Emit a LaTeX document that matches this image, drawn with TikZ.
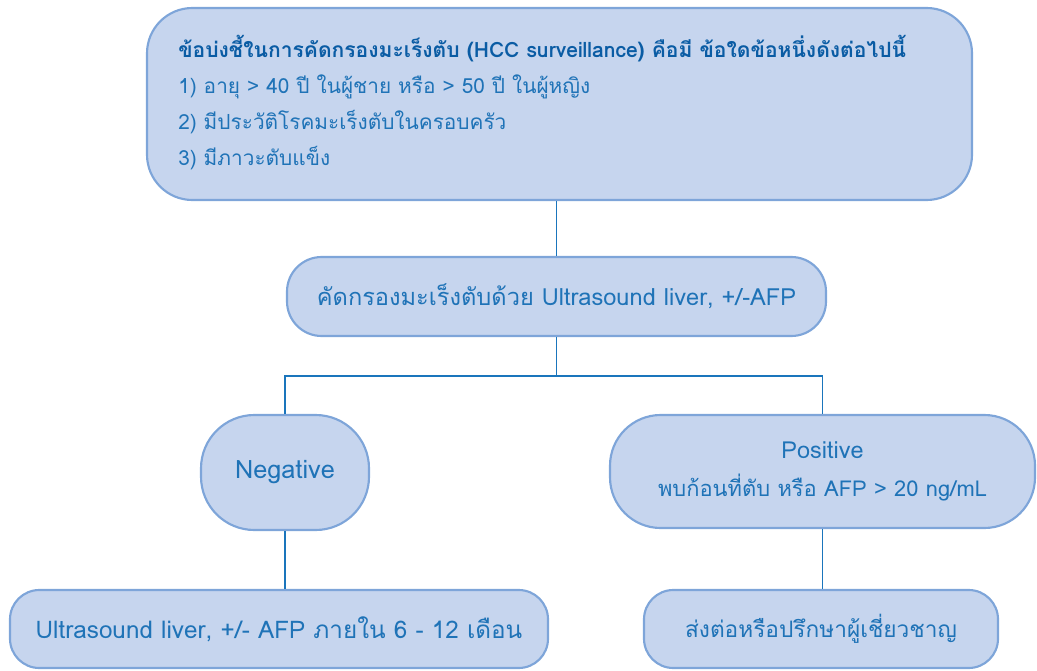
\documentclass[tikz,border=0pt]{standalone}
\usepackage{fontspec}
\setmainfont[Script=Thai]{Loma}
\definecolor{boxfill}{HTML}{C6D5EE}
\definecolor{boxline}{HTML}{7EA5D9}
\definecolor{txt}{HTML}{1F73B7}
\definecolor{head}{HTML}{0A5CA4}
\definecolor{conn}{HTML}{1A75BC}
\begin{document}
\begin{tikzpicture}[x=0.75pt,y=-0.75pt,
  box/.style={draw=boxline, line width=1.6pt, fill=boxfill, inner sep=0pt, text=txt, align=center},
  conn/.style={draw=conn, line width=1.1pt},
  body/.style={text=txt, inner sep=0pt, anchor=base west, font=\fontsize{15.6}{18}\selectfont}]
\useasboundingbox (0,0) rectangle (1037,670);
\node[box, minimum width=618.75pt, minimum height=144pt, rounded corners=34pt] (top) at (559.5,104) {};
\node[body, text=head, font=\fontsize{15.8}{18}\bfseries\selectfont] (t0) at (178,58) {ข้อบ่งชี้ในการคัดกรองมะเร็งตับ (HCC surveillance) คือมี ข้อใดข้อหนึ่งดังต่อไปนี้};
\node[body] (t1) at (178,94) {1) อายุ > 40 ปี ในผู้ชาย หรือ > 50 ปี ในผู้หญิง};
\node[body] (t2) at (178,130) {2) มีประวัติโรคมะเร็งตับในครอบครัว};
\node[body] (t3) at (178,166) {3) มีภาวะตับแข็ง};
\node[box, minimum width=404.25pt, minimum height=59.25pt, rounded corners=26pt, font=\fontsize{17.7}{20}\selectfont] (mid) at (556.5,296.5) {คัดกรองมะเร็งตับด้วย Ultrasound liver, +/-AFP};
\node[box, minimum width=126pt, minimum height=86.25pt, rounded corners=40pt, font=\fontsize{19}{22}\selectfont] (neg) at (285,472.5) {\raisebox{-2pt}{Negative}};
\node[box, minimum width=318.75pt, minimum height=84.75pt, rounded corners=38pt, font=\fontsize{16.4}{28.5}\selectfont] (pos) at (822.5,471.5) {{\fontsize{17.6}{28.5}\selectfont Positive}\\พบก้อนที่ตับ หรือ AFP > 20 ng/mL};
\node[box, minimum width=403.5pt, minimum height=58.5pt, rounded corners=22pt, font=\fontsize{18.2}{20}\selectfont] (bl) at (279,629) {Ultrasound liver, +/- AFP ภายใน 6 - 12 เดือน};
\node[box, minimum width=265.5pt, minimum height=58.5pt, rounded corners=22pt, font=\fontsize{17}{20}\selectfont] (br) at (821,629) {ส่งต่อหรือปรึกษาผู้เชี่ยวชาญ};
\coordinate (split) at (555,376);
\draw[conn] (top.south -| mid.north) -- (mid.north);
\draw[conn] (mid.south) -- (mid.south |- split);
\draw[conn] (neg.north) -- (neg.north |- split) -- (pos.north |- split) -- (pos.north);
\draw[conn] (neg.south) -- (neg.south |- bl.north);
\draw[conn] (pos.south) -- (pos.south |- br.north);
\end{tikzpicture}
\end{document}
